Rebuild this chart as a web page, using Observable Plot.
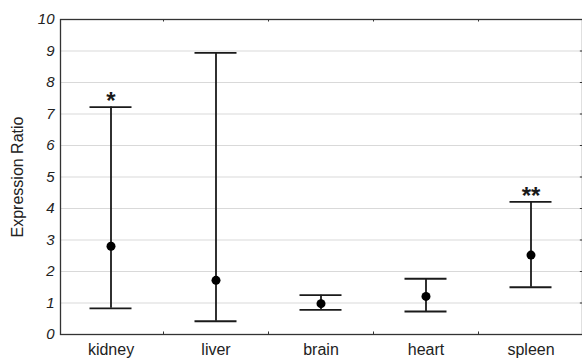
<!DOCTYPE html>
<html>
<head>
<meta charset="utf-8">
<script src="https://cdn.jsdelivr.net/npm/d3@7"></script>
<script src="https://cdn.jsdelivr.net/npm/@observablehq/plot@0.6"></script>
<style>
  html, body { margin: 0; padding: 0; background: #fff; }
  svg { display: block; }
</style>
</head>
<body>
<div id="chart"></div>
<script>
const tissues = ["kidney", "liver", "brain", "heart", "spleen"];
const means = [2.80, 1.72, 0.98, 1.21, 2.52];
const lows = [0.83, 0.42, 0.78, 0.73, 1.50];
const highs = [7.22, 8.94, 1.25, 1.77, 4.21];
const marks = ["*", "", "", "", "**"];
const yTicks = [0, 1, 2, 3, 4, 5, 6, 7, 8, 9, 10];
const yLabel = "Expression Ratio";

const data = tissues.map((t, i) => ({i, tissue: t, mean: means[i], low: lows[i], high: highs[i], mark: marks[i]}));
const boundaries = d3.range(1, tissues.length).map(i => i - 0.5);

const ink = "#1a1a1a";
const capHalf = 0.2;

const chart = Plot.plot({
  width: 582,
  height: 359,
  marginLeft: 60,
  marginRight: 0,
  marginTop: 19,
  marginBottom: 25,
  style: {fontFamily: "'Liberation Sans', Arial, sans-serif", color: "#222", background: "#fff"},
  x: {domain: [-0.5, tissues.length - 0.5], range: [58, 583]},
  y: {domain: [0, 10]},
  marks: [
    Plot.ruleY(yTicks.slice(1, -1), {stroke: "#d9d9d9", strokeWidth: 1.2}),
    Plot.frame({stroke: "#333", strokeWidth: 1.3}),
    Plot.ruleX(boundaries, {y1: 0, y2: 0.08, stroke: "#333"}),
    Plot.ruleX(boundaries, {y1: 10, y2: 9.92, stroke: "#333"}),
    Plot.ruleY(yTicks.slice(1, -1), {x1: 4.5, x2: 4.47, stroke: "#333"}),
    Plot.axisY({ticks: yTicks, tickSize: 0, tickPadding: 6, fontSize: 15, fontStyle: "italic", label: null}),
    Plot.text([yLabel], {frameAnchor: "left", dx: -43, rotate: -90, lineAnchor: "middle", textAnchor: "middle", fontSize: 16, fill: "#222"}),
    Plot.axisX({ticks: d3.range(tissues.length), tickFormat: i => tissues[i], tickSize: 0, tickPadding: 9, fontSize: 16, label: null}),
    Plot.ruleX(data, {x: "i", y1: "low", y2: "high", stroke: ink, strokeWidth: 1.8}),
    Plot.ruleY(data, {y: "high", x1: d => d.i - capHalf, x2: d => d.i + capHalf, stroke: ink, strokeWidth: 1.8}),
    Plot.ruleY(data, {y: "low", x1: d => d.i - capHalf, x2: d => d.i + capHalf, stroke: ink, strokeWidth: 1.8}),
    Plot.dot(data, {x: "i", y: "mean", r: 4.5, fill: "#000", stroke: "none"}),
    Plot.text(data, {x: "i", y: "high", text: "mark", lineAnchor: "bottom", dy: 2, fontSize: 24, fontWeight: "bold", fill: ink})
  ]
});
document.getElementById("chart").appendChild(chart);
</script>
</body>
</html>
